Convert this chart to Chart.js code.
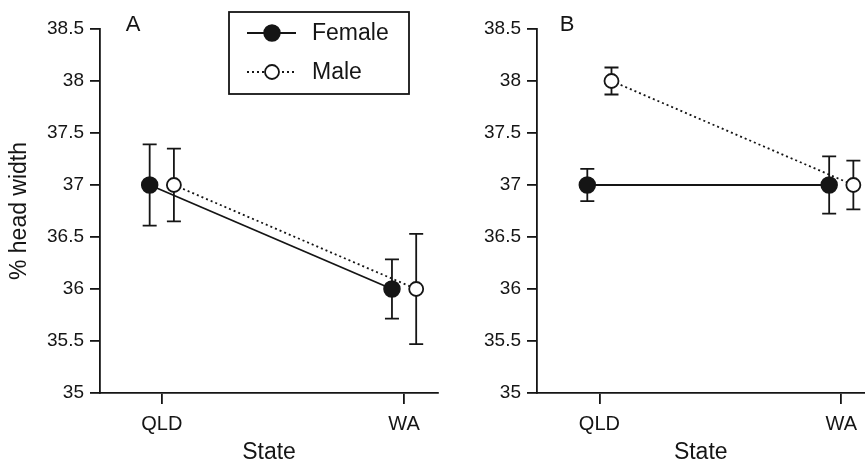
<!DOCTYPE html>
<html>
<head>
<meta charset="utf-8">
<script src="https://cdn.jsdelivr.net/npm/chart.js@4"></script>
<style>
  body { margin: 0; background: #fff; }
  #wrap { position: relative; width: 865px; height: 462px; }
  canvas { position: absolute; top: 0; }
</style>
</head>
<body>
<div id="wrap">
  <canvas id="chartA" width="440" height="462" style="left:0"></canvas>
  <canvas id="chartB" width="425" height="462" style="left:440px"></canvas>
</div>
<script>
const states = ["QLD", "WA"];
const yTicks = [35, 35.5, 36, 36.5, 37, 37.5, 38, 38.5];

const femaleA = [37, 36];
const femaleErrA = [0.39, 0.285];
const maleA = [37, 36];
const maleErrA = [0.35, 0.53];

const femaleB = [37, 37];
const femaleErrB = [0.155, 0.275];
const maleB = [38, 37];
const maleErrB = [0.13, 0.235];

const shift = 0.05; // dodge so the two sexes don't overlap
const ink = "#151515";
const fontFam = "'Liberation Sans', Arial, Helvetica, sans-serif";

Chart.defaults.font.family = fontFam;
Chart.defaults.color = ink;

function pts(vals, dx) {
  return vals.map((v, i) => ({ x: i + dx, y: v }));
}

// vertical error bars with caps, drawn under the markers
const errorBars = {
  id: "errorBars",
  beforeDatasetsDraw(chart) {
    const ctx = chart.ctx;
    const xs = chart.scales.x, ys = chart.scales.y;
    ctx.save();
    ctx.strokeStyle = ink;
    ctx.lineWidth = 1.8;
    chart.data.datasets.forEach(ds => {
      ds.data.forEach((p, i) => {
        const x = xs.getPixelForValue(p.x);
        const top = ys.getPixelForValue(p.y + ds.errors[i]);
        const bot = ys.getPixelForValue(p.y - ds.errors[i]);
        ctx.beginPath();
        ctx.moveTo(x, top); ctx.lineTo(x, bot);
        ctx.moveTo(x - 7, top); ctx.lineTo(x + 7, top);
        ctx.moveTo(x - 7, bot); ctx.lineTo(x + 7, bot);
        ctx.stroke();
      });
    });
    ctx.restore();
  }
};

// panel letter + boxed legend
const decor = {
  id: "decor",
  afterDraw(chart, args, opts) {
    const ctx = chart.ctx;
    ctx.save();
    ctx.fillStyle = ink;
    ctx.font = "22px " + fontFam;
    ctx.textAlign = "center";
    ctx.textBaseline = "middle";
    ctx.fillText(opts.letter, opts.lx, opts.ly);
    if (opts.legend) {
      ctx.strokeStyle = ink;
      ctx.lineWidth = 1.8;
      ctx.strokeRect(229, 12, 180, 82);
      ctx.font = "23px " + fontFam;
      ctx.textAlign = "left";
      chart.data.datasets.forEach((ds, k) => {
        const y = 33 + k * 39;
        ctx.setLineDash(ds.borderDash || []);
        ctx.lineWidth = ds.borderWidth;
        ctx.beginPath();
        ctx.moveTo(247, y); ctx.lineTo(296, y);
        ctx.stroke();
        ctx.setLineDash([]);
        ctx.beginPath();
        ctx.arc(272, y, ds.pointRadius, 0, Math.PI * 2);
        ctx.fillStyle = ds.pointBackgroundColor;
        ctx.fill();
        ctx.lineWidth = ds.pointBorderWidth;
        ctx.stroke();
        ctx.fillStyle = ink;
        ctx.fillText(ds.label, 312, y + 1);
      });
    }
    ctx.restore();
  }
};

function makeSets(f, fe, m, me) {
  return [
    {
      label: "Female",
      data: pts(f, -shift),
      errors: fe,
      showLine: true,
      borderColor: ink,
      borderWidth: 1.8,
      pointRadius: 8,
      pointBackgroundColor: ink,
      pointBorderColor: ink,
      pointBorderWidth: 1.5
    },
    {
      label: "Male",
      data: pts(m, shift),
      errors: me,
      showLine: true,
      borderColor: ink,
      borderWidth: 1.8,
      borderDash: [2, 3],
      pointRadius: 7,
      pointBackgroundColor: "#ffffff",
      pointBorderColor: ink,
      pointBorderWidth: 1.8
    }
  ];
}

function makeConfig(sets, p) {
  return {
    type: "scatter",
    data: { datasets: sets },
    plugins: [errorBars, decor],
    options: {
      responsive: false,
      animation: false,
      clip: false,
      layout: { autoPadding: false, padding: p.pad },
      plugins: {
        legend: { display: false },
        tooltip: { enabled: false },
        decor: p.decor
      },
      scales: {
        x: {
          type: "linear",
          min: p.xmin,
          max: p.xmax,
          afterBuildTicks: s => { s.ticks = states.map((c, i) => ({ value: i })); },
          afterFit: s => { s.height = 69; },
          grid: { drawOnChartArea: false, tickLength: 11, color: ink, lineWidth: 1.8 },
          border: { color: ink, width: 1.8 },
          ticks: { font: { size: 20 }, padding: 8, callback: v => states[v] },
          title: {
            display: true, text: "State",
            font: { size: 23, lineHeight: 0.8 },
            padding: { top: 0, bottom: 0 }
          }
        },
        y: {
          min: 35,
          max: 38.5,
          afterBuildTicks: s => { s.ticks = yTicks.map(v => ({ value: v })); },
          afterFit: s => { s.width = p.yw; },
          grid: { drawOnChartArea: false, tickLength: 10, color: ink, lineWidth: 1.8 },
          border: { color: ink, width: 1.8 },
          ticks: { font: { size: 19 }, padding: 6, callback: v => String(v) },
          title: {
            display: p.ytitle, text: "% head width",
            font: { size: 23 },
            padding: { top: 6, bottom: 0 }
          }
        }
      }
    }
  };
}

new Chart(document.getElementById("chartA"), makeConfig(
  makeSets(femaleA, femaleErrA, maleA, maleErrA),
  {
    pad: { left: 0, top: 29, right: 2, bottom: 0 },
    yw: 100, ytitle: true, xmin: -0.255, xmax: 1.14,
    decor: { letter: "A", lx: 133, ly: 25, legend: true }
  }
));

new Chart(document.getElementById("chartB"), makeConfig(
  makeSets(femaleB, femaleErrB, maleB, maleErrB),
  {
    pad: { left: 0, top: 29, right: 0, bottom: 0 },
    yw: 97, ytitle: false, xmin: -0.258, xmax: 1.096,
    decor: { letter: "B", lx: 127, ly: 25, legend: false }
  }
));
</script>
</body>
</html>
